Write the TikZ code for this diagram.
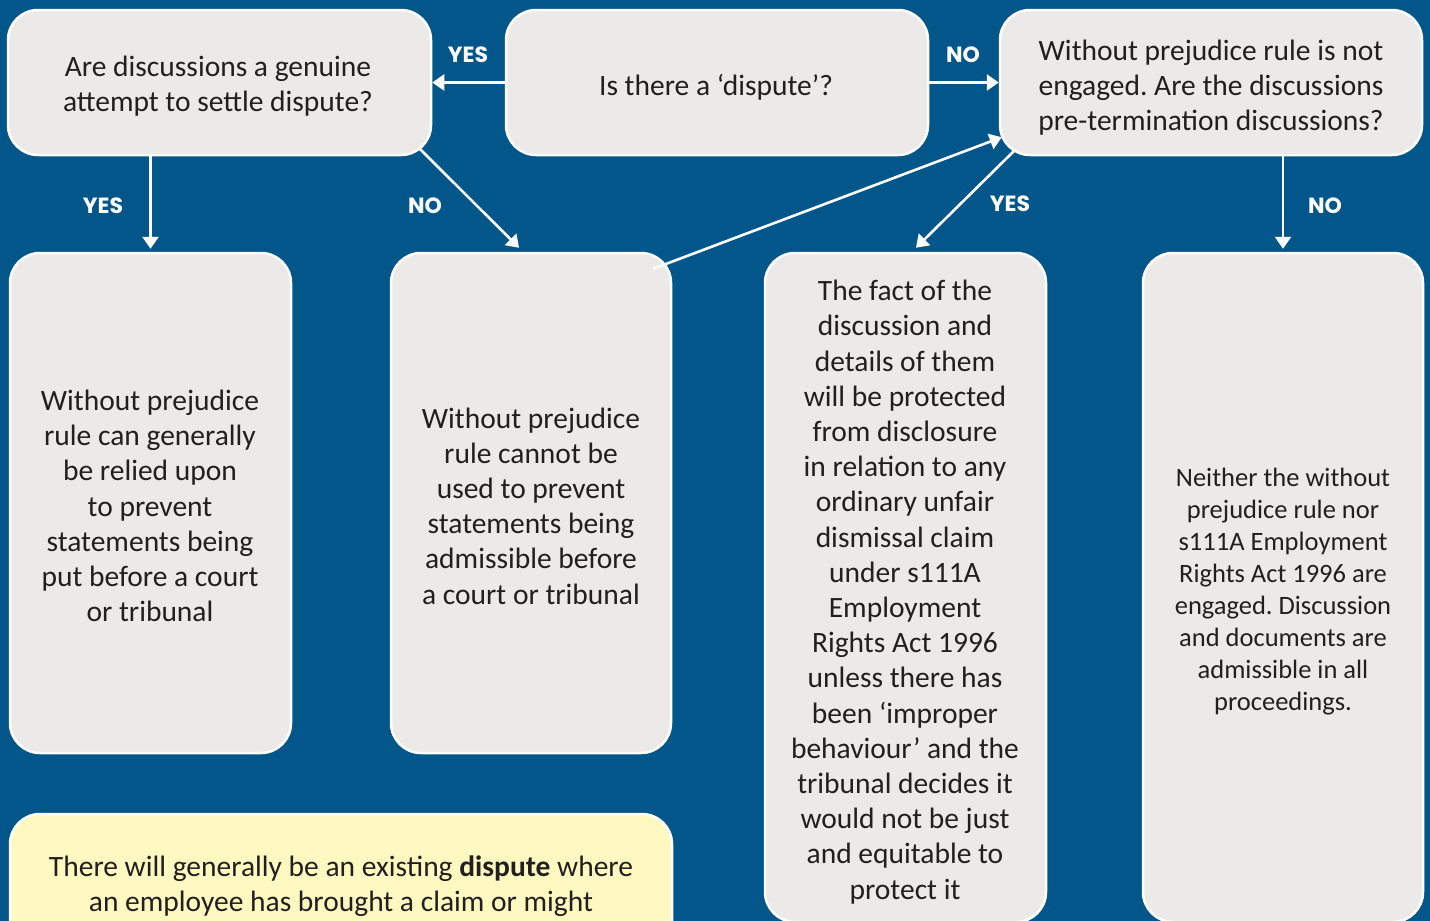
\documentclass[tikz,border=0pt]{standalone}
\usepackage{fontspec}
\setmainfont{Carlito}
\newfontfamily\labfont{Poppins}
\usetikzlibrary{arrows.meta,calc}
\definecolor{bgblue}{HTML}{03568A}
\definecolor{boxgrey}{HTML}{EBEAE8}
\definecolor{boxyellow}{HTML}{FEF9C1}
\definecolor{txt}{HTML}{231F20}
\frenchspacing
\tikzset{
  box/.style={rectangle, rounded corners=30pt, fill=boxgrey, draw=white, line width=2.5pt,
    inner sep=0pt},
  ybox/.style={box, fill=boxyellow},
  boxtext/.style={align=center, text=txt, inner sep=0pt, font=\frenchspacing\fontsize{29.5}{35.2}\selectfont},
  conn/.style={draw=white, line width=2.6pt, -{Triangle[length=12pt,width=16pt]}},
  lab/.style={text=white, font=\labfont\bfseries\fontsize{22}{24}\selectfont, inner sep=0pt}
}
\begin{document}
\begin{tikzpicture}[x=1pt,y=-1pt]
\clip (0,0) rectangle (1430,921);
\fill[bgblue] (0,0) rectangle (1430,921);
% boxes
\node[box, minimum width=423pt, minimum height=145pt] (A) at (219.5,82.5) {};
\node[box, minimum width=422pt, minimum height=145pt] (B) at (717,82.5) {};
\node[box, minimum width=422pt, minimum height=145pt] (C) at (1211,82.5) {};
\node[box, minimum width=281pt, minimum height=500pt] (D) at (150.5,503) {};
\node[box, minimum width=280pt, minimum height=500pt] (E) at (531,503) {};
\node[box, minimum width=281pt, minimum height=669pt] (F) at (905.5,587.5) {};
\node[box, minimum width=280pt, minimum height=669pt] (G) at (1283,587.5) {};
\node[ybox, minimum width=662pt, minimum height=172pt] (H) at (341,900) {};
% texts
\node[boxtext] (At) at (218,86) {Are discussions a genuine\\attempt to settle dispute?};
\node[boxtext] (Bt) at (716,87) {Is there a ‘dispute’?};
\node[boxtext] (Ct) at (1211,87.5) {Without prejudice rule is not\\engaged. Are the discussions\\pre-termination discussions?};
\node[boxtext] (Dt) at (150,506) {Without prejudice\\rule can generally\\be relied upon\\to prevent\\statements being\\put before a court\\or tribunal};
\node[boxtext] (Et) at (531,506) {Without prejudice\\rule cannot be\\used to prevent\\statements being\\admissible before\\a court or tribunal};
\node[boxtext] (Ft) at (905,592) {The fact of the\\discussion and\\details of them\\will be protected\\from disclosure\\in relation to any\\ordinary unfair\\dismissal claim\\under s111A\\Employment\\Rights Act 1996\\unless there has\\been ‘improper\\behaviour’ and the\\tribunal decides it\\would not be just\\and equitable to\\protect it};
\node[boxtext, font=\frenchspacing\fontsize{26.5}{32}\selectfont] (Gt) at (1283,592) {Neither the without\\prejudice rule nor\\s111A Employment\\Rights Act 1996 are\\engaged. Discussion\\and documents are\\admissible in all\\proceedings.};
\node[boxtext] (Ht) at (341,886) {There will generally be an existing \textbf{dispute} where\\an employee has brought a claim or might};
% connectors
\draw[conn] (B.west) -- (A.east);
\draw[conn] (B.east) -- (C.west);
\draw[conn, shorten >=3pt] (D.north |- A.south) -- (D.north);
\draw[conn] ($(A.south east)+(-13,-8)$) -- ($(E.north)+(-12,-4)$);
\draw[conn] ($(E.north east)+(-19,17)$) -- ($(C.south west)+(3,-19)$);
\draw[conn] ($(C.south west)+(17,-7)$) -- ($(F.north)+(10.5,-4)$);
\draw[conn, shorten >=3pt] (G.north |- C.south) -- (G.north);
% labels
\node[lab] (l1) at (468,55) {YES};
\node[lab] (l2) at (963,55) {NO};
\node[lab] (l3) at (103,206) {YES};
\node[lab] (l4) at (425,206) {NO};
\node[lab] (l5) at (1010,204) {YES};
\node[lab] (l6) at (1325,206) {NO};
\end{tikzpicture}
\end{document}
